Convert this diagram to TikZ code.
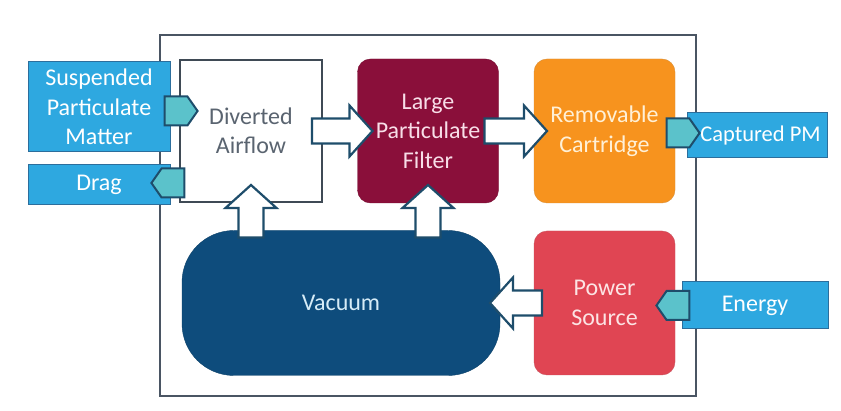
\documentclass[tikz,border=0pt]{standalone}
\usepackage{fontspec}
\setmainfont{Carlito}
\usetikzlibrary{calc,shapes.symbols}
\definecolor{framegray}{HTML}{4A5563}
\definecolor{boxgray}{HTML}{3F4A55}
\definecolor{textgray}{HTML}{5A6470}
\definecolor{filterred}{HTML}{8A0F3A}
\definecolor{cartorange}{HTML}{F7931E}
\definecolor{powerred}{HTML}{E04553}
\definecolor{vacblue}{HTML}{0E4C7C}
\definecolor{pmblue}{HTML}{2EA8E0}
\definecolor{pmedge}{HTML}{2C6E9C}
\definecolor{portteal}{HTML}{5BC2CB}
\definecolor{arrowline}{HTML}{1E4D6B}
\begin{document}
\begin{tikzpicture}[x=1pt,y=-1pt,
    block/.style={rounded corners=13pt, minimum width=141pt, minimum height=144pt},
    inbox/.style={fill=pmblue, draw=pmedge, line width=1pt, text=white},
    port/.style={signal, fill=portteal, draw=arrowline, line width=2pt,
        minimum width=33pt, minimum height=29pt, signal pointer angle=110},
    bigarrow/.style={draw=arrowline, fill=white, line width=2.2pt, line join=miter,
        to path={($(\tikztostart)!12.5pt!90:(\tikztotarget)$)
            -- ($(\tikztotarget)!23pt!(\tikztostart)!12.5pt!90:(\tikztotarget)$)
            -- ($(\tikztotarget)!23pt!(\tikztostart)!25.5pt!90:(\tikztotarget)$)
            -- (\tikztotarget)
            -- ($(\tikztotarget)!23pt!(\tikztostart)!25.5pt!-90:(\tikztotarget)$)
            -- ($(\tikztotarget)!23pt!(\tikztostart)!12.5pt!-90:(\tikztotarget)$)
            -- ($(\tikztostart)!12.5pt!-90:(\tikztotarget)$) -- cycle}}]
    \fill[white] (0,0) rectangle (841,411);
    \useasboundingbox (0,0) rectangle (841,411);

    \node[draw=framegray, line width=1.6pt, minimum width=536pt, minimum height=361pt] (frame) at (428,215.5) {};

    \begin{scope}[every node/.style={inner sep=0pt, outer sep=0pt, align=center, font=\fontsize{24}{29.5}\selectfont}]
        \node[draw=boxgray, line width=1.6pt, fill=white, text=textgray, minimum width=142pt, minimum height=142pt] (div) at (251,131) {Diverted\\Airflow};
        \node[block, fill=filterred, draw=filterred!85!black, text={rgb,255:red,248;green,222;blue,232}] (lpf) at (428,131) {Large\\Particulate\\Filter};
        \node[block, fill=cartorange, draw=cartorange!75!gray, text={rgb,255:red,255;green,240;blue,214}] (cart) at (604.5,131) {Removable\\Cartridge};
        \node[rounded corners=52pt, fill=vacblue, draw=vacblue!85!black, text={rgb,255:red,214;green,236;blue,247}, minimum width=318pt, minimum height=145pt] (vac) at (341,303) {Vacuum};
        \node[block, fill=powerred, draw=powerred!75!gray, text={rgb,255:red,252;green,228;blue,228}] (pow) at (604.5,303) {Power\\Source};

        \node[inbox, minimum width=142pt, minimum height=90pt] (spm) at (99,107) {Suspended\\Particulate\\Matter};
        \node[inbox, minimum width=142pt, minimum height=40pt] (drag) at (99,185) {Drag};
        \node[inbox, minimum width=140pt, minimum height=45pt, font=\fontsize{22.5}{27}\selectfont] (cpm) at (757,135.5) {\hspace*{7pt}Captured PM};
        \node[inbox, minimum width=146pt, minimum height=47pt] (energy) at (755,305.5) {Energy};
    \end{scope}

    % ports
    \node[port, signal to=east] (spmport) at (176,111) {};
    \node[port, signal to=west] (dragport) at (173,183) {};
    \node[port, signal to=east] (cpmport) at (678,133) {};
    \node[port, signal to=west] (energyport) at (678,305.5) {};

    % flow arrows
    \draw[bigarrow] ([xshift=-10pt]div.east) to ([xshift=15pt]lpf.west);
    \draw[bigarrow] ([xshift=-14pt]lpf.east) to ([xshift=13pt]cart.west);
    \draw[bigarrow] ([yshift=-7pt]div.south |- vac.north) to ([yshift=17pt]div.south);
    \draw[bigarrow] ([yshift=-7pt]lpf.south |- vac.north) to ([yshift=18pt]lpf.south);
    \draw[bigarrow] ([xshift=8pt]pow.west) to ([xshift=-10pt]vac.east);
\end{tikzpicture}
\end{document}
